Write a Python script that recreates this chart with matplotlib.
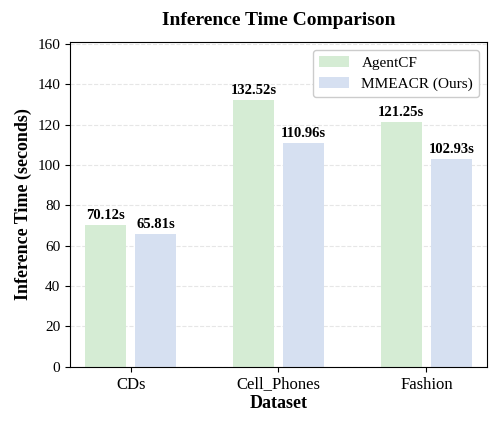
import matplotlib
matplotlib.use("Agg")
import matplotlib.pyplot as plt
import numpy as np

plt.rcParams['font.family'] = ['Liberation Serif', 'DejaVu Serif']

datasets = ["CDs", "Cell_Phones", "Fashion"]
agentcf = [70.12, 132.52, 121.25]
mmeacr = [65.81, 110.96, 102.93]

fig = plt.figure(figsize=(5, 4.3), dpi=100)
ax = fig.add_axes([0.14, 0.147, 0.834, 0.755])
x = np.arange(len(datasets))
w = 0.28
off = 0.17
b1 = ax.bar(x - off, agentcf, w, color='#d5ecd4', label='AgentCF', zorder=2)
b2 = ax.bar(x + off, mmeacr, w, color='#d6e0f1', label='MMEACR (Ours)', zorder=2)
for bars, vals in ((b1, agentcf), (b2, mmeacr)):
    for r, v in zip(bars, vals):
        ax.text(r.get_x() + r.get_width() / 2, v + 1.5, f"{v:.2f}s", ha='center', va='bottom',
                fontsize=10.5, fontweight='bold')
ax.set_xlim(-0.41, 2.41)
ax.set_ylim(0, 161)
ax.set_yticks(range(0, 161, 20))
ax.set_xticks(x)
ax.set_xticklabels(datasets, fontsize=12)
ax.tick_params(axis='y', labelsize=11)
ax.yaxis.grid(True, linestyle='--', color='#e6e6e6', zorder=0)
ax.set_axisbelow(True)
ax.set_xlabel('Dataset', fontsize=13, fontweight='bold', labelpad=2)
ax.set_ylabel('Inference Time (seconds)', fontsize=13, fontweight='bold')
ax.set_title('Inference Time Comparison', fontsize=14, fontweight='bold', pad=12)
ax.legend(loc='upper right', fontsize=11, framealpha=1, edgecolor='#cccccc')
fig.savefig('out.png', dpi=100)
